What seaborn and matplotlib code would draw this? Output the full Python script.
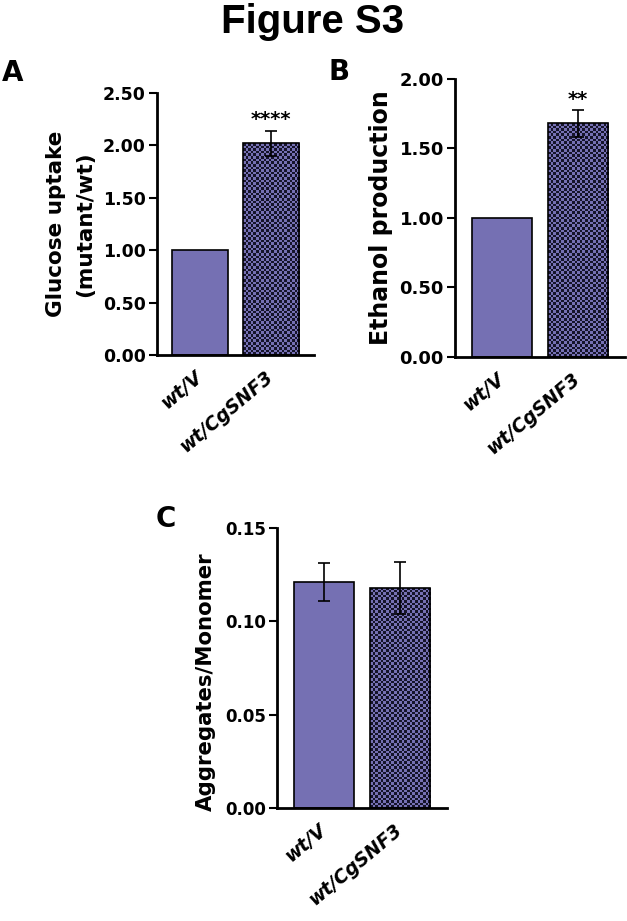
import numpy as np
import matplotlib
matplotlib.use("Agg")
import matplotlib.pyplot as plt
from matplotlib.colors import ListedColormap
import seaborn as sns

# ---- data ----
genotypes = ["wt/V", "wt/CgSNF3"]
glucose = [1.00, 2.02]
glucose_err = [0.0, 0.12]
ethanol = [1.00, 1.68]
ethanol_err = [0.0, 0.095]
aggregates = [0.121, 0.118]
aggregates_err = [0.010, 0.014]
sig_A = ["", "****"]
sig_B = ["", "**"]
ticks_A = [0.0, 0.5, 1.0, 1.5, 2.0, 2.5]
ticks_B = [0.0, 0.5, 1.0, 1.5, 2.0]
ticks_C = [0.0, 0.05, 0.10, 0.15]

sns.set_style("ticks")
plt.rcParams["font.family"] = ["DejaVu Sans"]
plt.rcParams["font.weight"] = "bold"
for k in ("text.color", "axes.labelcolor", "xtick.color", "ytick.color", "axes.edgecolor"):
    plt.rcParams[k] = "black"

PURPLE = "#7570b3"
DARK = "#15142a"
W, H = 627, 921
fig = plt.figure(figsize=(W / 100, H / 100), dpi=100)


def ax_px(l, r, t, b):
    return fig.add_axes([l / W, 1 - b / H, (r - l) / W, (b - t) / H])


def checker(ax, patch):
    fig.canvas.draw()
    x0, y0 = patch.get_x(), patch.get_y()
    w, h = patch.get_width(), patch.get_height()
    p0 = ax.transData.transform((x0, y0))
    p1 = ax.transData.transform((x0 + w, y0 + h))
    nx = max(1, int(round(abs(p1[0] - p0[0]) / 2.6)))
    ny = max(1, int(round(abs(p1[1] - p0[1]) / 2.6)))
    arr = (np.add.outer(np.arange(ny), np.arange(nx)) % 2).astype(float)
    im = ax.imshow(arr, extent=[x0, x0 + w, y0, y0 + h], origin="lower",
                   cmap=ListedColormap([DARK, PURPLE]), interpolation="nearest",
                   aspect="auto", zorder=1.5)
    im.set_clip_path(patch)
    patch.set_facecolor("none")
    patch.set_zorder(2)


def panel(ax, values, errs, ticks, ylim, ylabel, ylabel_size, tick_size, sigs=None,
          labelpad=5, linespacing=1.2):
    sns.barplot(x=genotypes, y=values, ax=ax, color=PURPLE, saturation=1,
                edgecolor="black", linewidth=1.2, width=0.8, errorbar=None)
    pos = np.arange(len(genotypes))
    errs = np.asarray(errs)
    vals = np.asarray(values)
    m = errs > 0
    ax.errorbar(pos[m], vals[m], yerr=errs[m], fmt="none", ecolor="black",
                elinewidth=1.2, capsize=4.5, capthick=1.2, zorder=3)
    ax.set_xlim(-0.62, 1.62)
    ax.set_ylim(*ylim)
    ax.set_yticks(ticks)
    ax.set_yticklabels([f"{t:.2f}" for t in ticks], fontsize=tick_size, fontweight="bold")
    ax.set_xticks(pos)
    ax.set_xticklabels(genotypes, rotation=40, ha="right", va="center", rotation_mode="anchor",
                       fontsize=13.5, fontweight="bold", fontstyle="italic")
    ax.set_ylabel(ylabel, fontsize=ylabel_size, fontweight="bold", labelpad=labelpad,
                  linespacing=linespacing)
    sns.despine(ax=ax)
    for s in ("left", "bottom"):
        ax.spines[s].set_linewidth(2.0)
        ax.spines[s].set_color("black")
    ax.tick_params(axis="y", length=6, width=1.5, colors="black", pad=2)
    ax.tick_params(axis="x", length=0, pad=14)
    if sigs is not None:
        for p, v, e, s in zip(pos, vals, errs, sigs):
            if s:
                ax.annotate(s, (p, v + e), xytext=(0, 1), textcoords="offset points",
                            ha="center", va="bottom", fontsize=14, fontweight="bold")
    ax.set_facecolor("none")
    checker(ax, ax.patches[1])
    ax.set_xlim(-0.62, 1.62)
    ax.set_ylim(*ylim)


axA = ax_px(157, 314, 93, 355)
panel(axA, glucose, glucose_err, ticks_A, (0, 2.5), "Glucose uptake\n(mutant/wt)", 15.5, 12.5,
      sig_A, labelpad=6, linespacing=1.55)

axB = ax_px(455, 625, 79, 357)
panel(axB, ethanol, ethanol_err, ticks_B, (0, 2.0), "Ethanol production", 17, 13, sig_B, labelpad=5)

axC = ax_px(277, 447, 528, 808)
panel(axC, aggregates, aggregates_err, ticks_C, (0, 0.15), "Aggregates/Monomer", 15.3, 12, None, labelpad=6)
axC.yaxis.label.set_verticalalignment("center")
axC.yaxis.set_label_coords(-0.42, 0.45)

fig.text(313 / W, 1 - 22 / H, "Figure S3", ha="center", va="center",
         fontsize=29, fontweight="bold", family=["Liberation Sans", "DejaVu Sans"])
for lbl, x, y in (("A", 13, 73), ("B", 339, 72), ("C", 166, 519)):
    fig.text(x / W, 1 - y / H, lbl, ha="center", va="center", fontsize=20, fontweight="bold")

fig.savefig("out.png", dpi=100, facecolor="white")
